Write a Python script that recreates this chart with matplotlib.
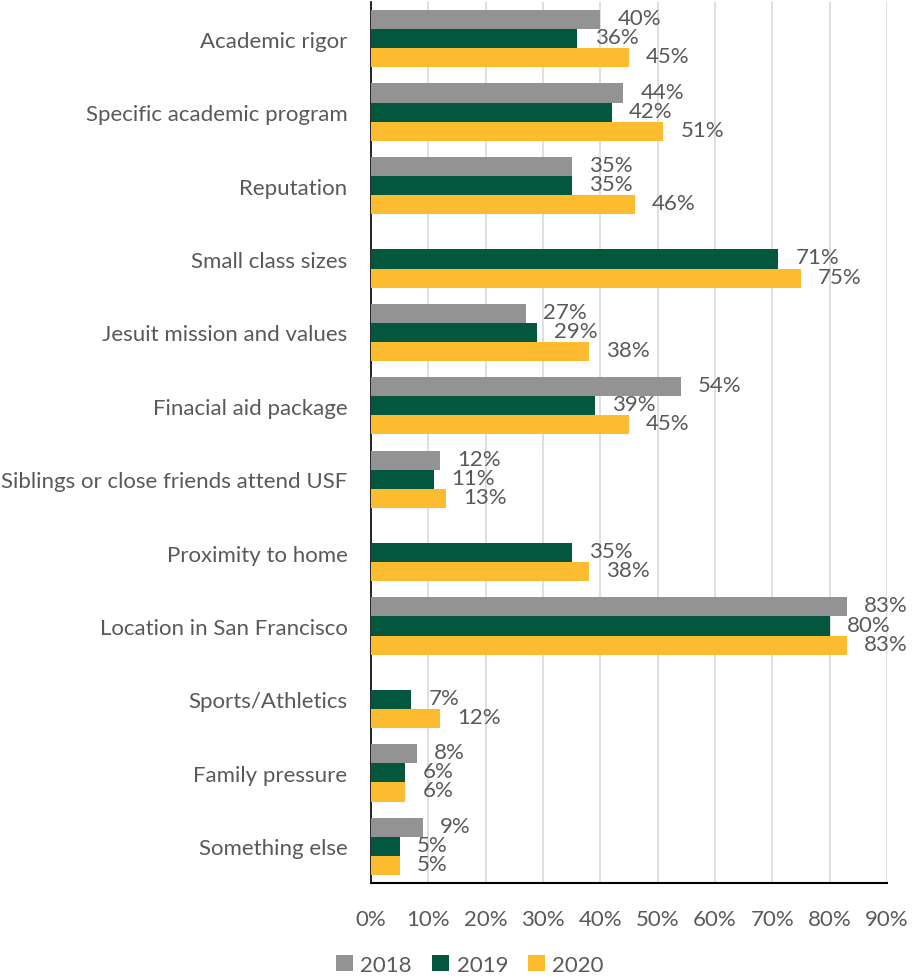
import matplotlib
matplotlib.use("Agg")
import matplotlib.pyplot as plt
import numpy as np

plt.rcParams['font.family'] = ['Lato', 'DejaVu Sans']

categories = [
    "Academic rigor",
    "Specific academic program",
    "Reputation",
    "Small class sizes",
    "Jesuit mission and values",
    "Finacial aid package",
    "Siblings or close friends attend USF",
    "Proximity to home",
    "Location in San Francisco",
    "Sports/Athletics",
    "Family pressure",
    "Something else",
]
years = ["2018", "2019", "2020"]
values_2018 = [40, 44, 35, None, 27, 54, 12, None, 83, None, 8, 9]
values_2019 = [36, 42, 35, 71, 29, 39, 11, 35, 80, 7, 6, 5]
values_2020 = [45, 51, 46, 75, 38, 45, 13, 38, 83, 12, 6, 5]
series = [values_2018, values_2019, values_2020]
colors = ["#939393", "#03573F", "#FDBB30"]
text_color = "#595959"
fs = 16

fig = plt.figure(figsize=(9.15, 9.78), dpi=100)
ax = fig.add_axes([371 / 915, 1 - 884 / 978, (887 - 371) / 915, (884 - 3) / 978])

n = len(categories)
y = np.arange(n)
bar_h = 0.26
offsets = [-bar_h, 0, bar_h]

for vals, col, off, yr in zip(series, colors, offsets, years):
    ypos = [yi + off for yi, v in zip(y, vals) if v is not None]
    xs = [v for v in vals if v is not None]
    ax.barh(ypos, xs, height=bar_h, color=col, label=yr, zorder=3)
    for yp, v in zip(ypos, xs):
        ax.text(v + 3.0, yp - 0.02, f"{v}%", va="center", ha="left",
                fontsize=fs, color=text_color, zorder=4)

ax.set_ylim(n - 0.5, -0.5)
ax.set_xlim(0, 90)
ax.set_xticks(np.arange(0, 91, 10))
ax.set_xticklabels([f"{t}%" for t in range(0, 91, 10)])
ax.set_yticks(y)
ax.set_yticklabels(categories)
ax.tick_params(axis="y", length=0, pad=17, labelsize=fs, labelcolor=text_color)
ax.tick_params(axis="x", length=0, pad=19, labelsize=fs, labelcolor=text_color)

ax.grid(axis="x", color="#D9D9D9", linewidth=1.2, zorder=0)
for side in ["top", "right"]:
    ax.spines[side].set_visible(False)
ax.spines["left"].set_color("black")
ax.spines["left"].set_linewidth(1.2)
ax.spines["bottom"].set_color("black")
ax.spines["bottom"].set_linewidth(1.5)

leg = fig.legend(loc="center", bbox_to_anchor=(470 / 915, 1 - 966 / 978), ncol=3,
                 frameon=False, fontsize=fs, handlelength=0.75, handleheight=0.75,
                 handletextpad=0.35, columnspacing=0.9)
for t in leg.get_texts():
    t.set_color(text_color)

fig.savefig("out.png", dpi=100)
